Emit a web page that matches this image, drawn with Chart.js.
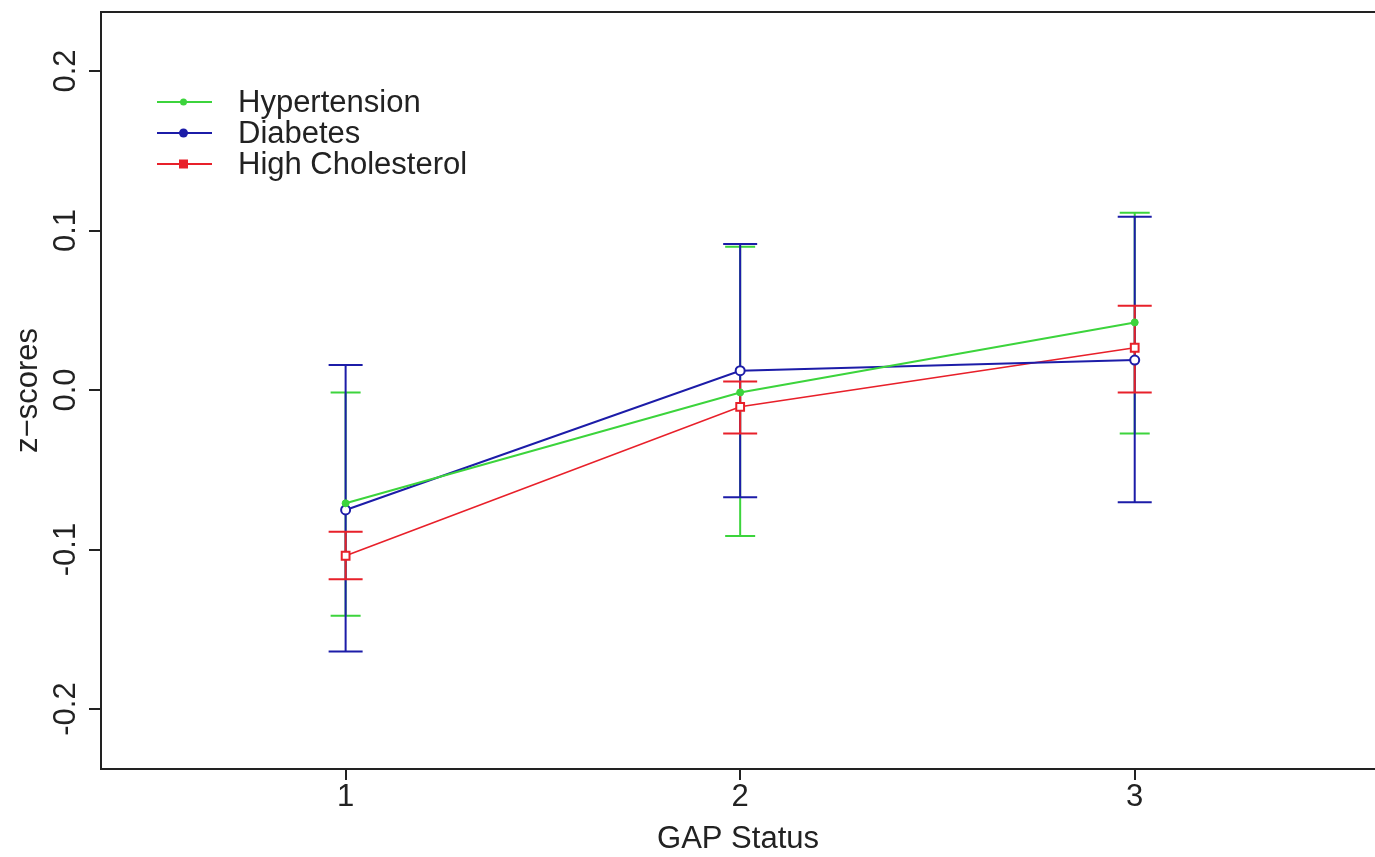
<!DOCTYPE html>
<html><head><meta charset="utf-8">
<script src="https://cdn.jsdelivr.net/npm/chart.js@4.4.0/dist/chart.umd.min.js"></script>
<style>html,body{margin:0;padding:0;background:#fff;overflow:hidden}canvas{display:block}</style>
</head><body>
<canvas id="c" width="1375" height="857"></canvas>
<script>
const categories = [1, 2, 3];
const seriesNames = ['Hypertension', 'Diabetes', 'High Cholesterol'];
const hypMean = [-0.0710, -0.0015, 0.0424];
const hypLow  = [-0.1415, -0.0915, -0.0272];
const hypHigh = [-0.0015, 0.0898, 0.1112];
const diaMean = [-0.0752, 0.0121, 0.0188];
const diaLow  = [-0.1640, -0.0673, -0.0704];
const diaHigh = [0.0157, 0.0915, 0.1087];
const cholMean = [-0.1039, -0.0105, 0.0265];
const cholLow  = [-0.1187, -0.0272, -0.0015];
const cholHigh = [-0.0888, 0.0054, 0.0529];
const yTicks = [-0.2, -0.1, 0.0, 0.1, 0.2];
const yTickLabels = ['-0.2', '-0.1', '0.0', '0.1', '0.2'];
const xTicks = [1, 2, 3];
const xTickLabels = ['1', '2', '3'];

const FONT = '"Liberation Sans", Arial, Helvetica, sans-serif';
const TXT = '#222';
const GREEN = '#3cd43c', BLUE = '#1c1ca8', RED = '#e8202a';

const pts = (m) => categories.map((c, i) => ({x: c, y: m[i]}));

const errBars = [
  {lo: hypLow, hi: hypHigh, color: GREEN, half: 15},
  {lo: diaLow, hi: diaHigh, color: BLUE, half: 17},
  {lo: cholLow, hi: cholHigh, color: RED, half: 17}
];

const extras = {
  id: 'extras',
  beforeDatasetsDraw(chart) {
    const {ctx, scales: {x, y}} = chart;
    ctx.save();
    ctx.lineWidth = 2;
    errBars.forEach(b => {
      ctx.strokeStyle = b.color;
      categories.forEach((c, i) => {
        const px = x.getPixelForValue(c);
        const p1 = y.getPixelForValue(b.lo[i]);
        const p2 = y.getPixelForValue(b.hi[i]);
        ctx.beginPath();
        ctx.moveTo(px, p1); ctx.lineTo(px, p2);
        ctx.moveTo(px - b.half, p1); ctx.lineTo(px + b.half, p1);
        ctx.moveTo(px - b.half, p2); ctx.lineTo(px + b.half, p2);
        ctx.stroke();
      });
    });
    ctx.restore();
  },
  afterDraw(chart) {
    const {ctx, chartArea, scales: {y}} = chart;
    ctx.save();
    ctx.strokeStyle = '#222'; ctx.lineWidth = 2;
    ctx.beginPath();
    ctx.moveTo(chartArea.left - 1, chartArea.top);
    ctx.lineTo(chartArea.right + 2, chartArea.top);
    ctx.stroke();
    ctx.fillStyle = TXT;
    ctx.font = '31px ' + FONT;
    ctx.textAlign = 'center'; ctx.textBaseline = 'middle';
    y.ticks.forEach((t, i) => {
      const py = y.getPixelForValue(t.value);
      ctx.save();
      ctx.translate(66, py);
      ctx.rotate(-Math.PI / 2);
      ctx.fillText(yTickLabels[i], 0, 0);
      ctx.restore();
    });
    const leg = [
      {name: seriesNames[0], color: GREEN, style: 'dot'},
      {name: seriesNames[1], color: BLUE, style: 'circle'},
      {name: seriesNames[2], color: RED, style: 'square'}
    ];
    ctx.textAlign = 'left';
    leg.forEach((l, i) => {
      const ly = 102 + i * 31;
      ctx.strokeStyle = l.color; ctx.lineWidth = 2;
      ctx.beginPath(); ctx.moveTo(157, ly); ctx.lineTo(212, ly); ctx.stroke();
      ctx.fillStyle = l.color;
      if (l.style === 'square') {
        ctx.fillRect(179, ly - 4.5, 9, 9);
      } else {
        ctx.beginPath(); ctx.arc(183.5, ly, l.style === 'dot' ? 3.5 : 4.5, 0, Math.PI * 2); ctx.fill();
      }
      ctx.fillStyle = TXT;
      ctx.fillText(l.name, 238, ly + 1);
    });
    ctx.restore();
  }
};

new Chart(document.getElementById('c'), {
  type: 'line',
  data: {
    datasets: [
      {label: seriesNames[0], data: pts(hypMean), borderColor: GREEN, backgroundColor: GREEN,
       borderWidth: 2, pointRadius: 3.5, pointStyle: 'circle', pointBorderWidth: 1, tension: 0},
      {label: seriesNames[1], data: pts(diaMean), borderColor: BLUE, backgroundColor: '#ffffff',
       borderWidth: 2, pointRadius: 4.5, pointStyle: 'circle', pointBorderWidth: 2, tension: 0},
      {label: seriesNames[2], data: pts(cholMean), borderColor: RED, backgroundColor: '#ffffff',
       borderWidth: 1.6, pointRadius: 5.5, pointStyle: 'rect', pointBorderWidth: 2, tension: 0}
    ]
  },
  options: {
    responsive: false,
    animation: false,
    devicePixelRatio: 1,
    layout: {autoPadding: false, padding: {top: 12, left: 0, right: 0, bottom: 0}},
    plugins: {legend: {display: false}, tooltip: {enabled: false}},
    scales: {
      x: {
        type: 'linear', min: 0.38, max: 3.609,
        afterBuildTicks: s => { s.ticks = xTicks.map(v => ({value: v})); },
        afterFit: s => { s.height = 88; },
        grid: {display: true, drawOnChartArea: false, drawTicks: true, tickLength: 11, color: '#222', lineWidth: 2},
        border: {display: true, color: '#222', width: 2},
        ticks: {font: {family: FONT, size: 31, lineHeight: 1.1}, color: TXT, padding: 0,
                maxRotation: 0, autoSkip: false,
                callback: (v) => xTickLabels[xTicks.indexOf(v)] ?? ''},
        title: {display: true, text: 'GAP Status', font: {family: FONT, size: 31, lineHeight: 1.1},
                color: TXT, padding: {top: 0, bottom: 0}}
      },
      y: {
        type: 'linear', min: -0.2376, max: 0.237,
        afterBuildTicks: s => { s.ticks = yTicks.map(v => ({value: v})); },
        afterFit: s => { s.width = 101; },
        grid: {display: true, drawOnChartArea: false, drawTicks: true, tickLength: 12, color: '#222', lineWidth: 2},
        border: {display: true, color: '#222', width: 2},
        ticks: {display: false},
        title: {display: true, text: 'z\u2212scores', font: {family: FONT, size: 31, lineHeight: 1.1},
                color: TXT, padding: {top: 11, bottom: 0}}
      }
    }
  },
  plugins: [extras]
});
</script>
</body></html>
